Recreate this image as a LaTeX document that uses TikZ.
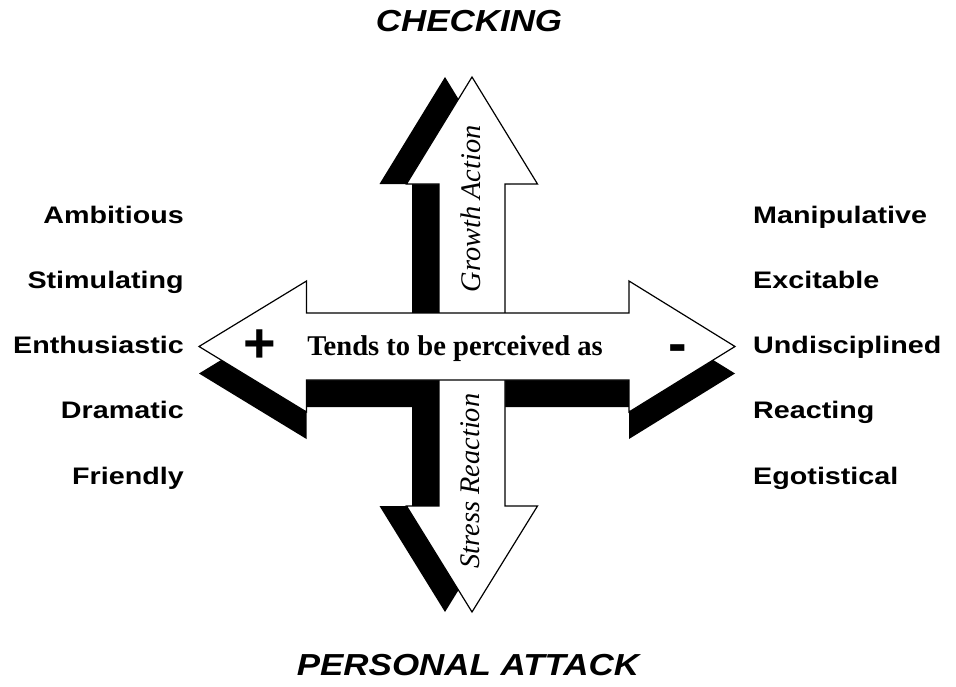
\documentclass[tikz,border=0pt]{standalone}
\usepackage{fontspec}
\setmainfont{Liberation Serif}
\newfontfamily\arialfont{Liberation Sans}
\tikzset{
  blackshadow/.style={fill=black},
  whitearrow/.style={fill=white, draw=black, line width=1.2},
  trait/.style={font=\arialfont\fontsize{24}{24}\selectfont\bfseries, xscale=1.2, transform shape, inner sep=0pt},
  heading/.style={font=\arialfont\fontsize{30.5}{30.5}\selectfont\bfseries\itshape, xscale=1.15, transform shape, inner sep=0pt},
  axislabel/.style={font=\fontsize{28.5}{28.5}\selectfont\itshape, rotate=90, transform shape, inner sep=0pt},
  centre/.style={font=\fontsize{28.7}{28.7}\selectfont\bfseries, inner sep=0pt},
  sign/.style={font=\arialfont\fontsize{56}{56}\selectfont\bfseries, inner sep=0pt}
}
\begin{document}
\begin{tikzpicture}[x=1bp, y=-1bp]
      \useasboundingbox (0,0) rectangle (956,687);
      % shadows
      \fill[blackshadow]
        (306.5,340) -- (306.5,308) -- (199,373.5) -- (306.5,439) -- (306.5,407)
        -- (629,407) -- (629,439) -- (735,373.5) -- (629,308) -- (629,340) -- cycle;
      \fill[blackshadow]
        (412,184) -- (379.5,184) -- (445,77) -- (510.5,184) -- (478,184)
        -- (478,506) -- (510.5,506) -- (445,612) -- (379.5,506) -- (412,506) -- cycle;
      % white arrows
      \filldraw[whitearrow]
        (439,184) -- (406.5,184) -- (472,77) -- (537.5,184) -- (505,184)
        -- (505,506) -- (537.5,506) -- (472,612) -- (406.5,506) -- (439,506) -- cycle;
      \filldraw[whitearrow]
        (306.5,313) -- (306.5,281) -- (199,346.5) -- (306.5,412) -- (306.5,380)
        -- (629,380) -- (629,412) -- (735,346.5) -- (629,281) -- (629,313) -- cycle;
      % texts on the arrows
      \node[centre, anchor=base] (tends) at (455,355) {Tends to be perceived as};
      \node[sign] (plus) at (259.5,346.5) {+};
      \node[sign] (minus) at (678,354) {-};
      \node[axislabel] (growth) at (471,209) {Growth Action};
      \node[axislabel] (stress) at (470,481) {Stress Reaction};
      % headings
      \node[heading] (checking) at (469,21) {CHECKING};
      \node[heading] (attack) at (468,665) {PERSONAL ATTACK};
      % left traits
      \node[trait, anchor=base east] (ambitious) at (184,223) {Ambitious};
      \node[trait, anchor=base east] (stimulating) at (184,288.25) {Stimulating};
      \node[trait, anchor=base east] (enthusiastic) at (184,353.5) {Enthusiastic};
      \node[trait, anchor=base east] (dramatic) at (184,418.75) {Dramatic};
      \node[trait, anchor=base east] (friendly) at (184,484) {Friendly};
      % right traits
      \node[trait, anchor=base west] (manipulative) at (753,223) {Manipulative};
      \node[trait, anchor=base west] (excitable) at (753,288.25) {Excitable};
      \node[trait, anchor=base west] (undisciplined) at (753,353.5) {Undisciplined};
      \node[trait, anchor=base west] (reacting) at (753,418.75) {Reacting};
      \node[trait, anchor=base west] (egotistical) at (753,484) {Egotistical};
    \end{tikzpicture}
\end{document}
